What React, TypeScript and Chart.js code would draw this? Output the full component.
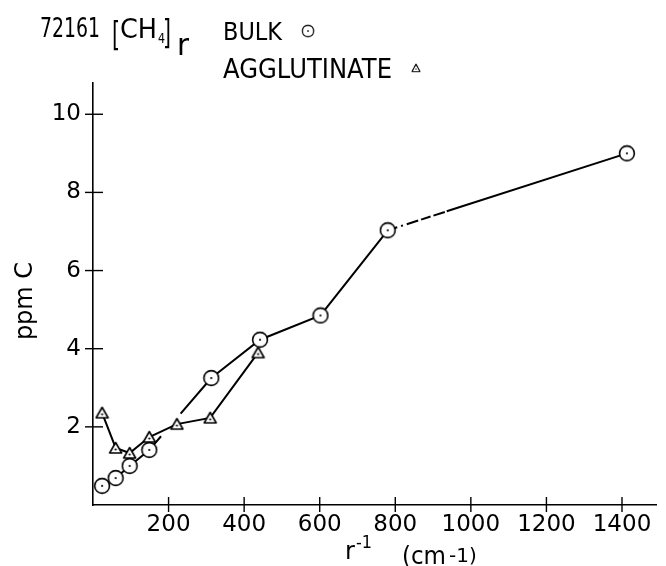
import React, { useEffect, useRef } from "react";
import { Chart, registerables } from "chart.js";

Chart.register(...registerables);

// Bulk (circles)
const BULK_X = [24, 60, 97, 149, 313, 442, 602, 780, 1413];
const BULK_Y = [0.49, 0.69, 1.0, 1.41, 3.25, 4.23, 4.85, 7.03, 9.0];
// Agglutinate (triangles)
const AGG_X = [24, 60, 97, 149, 222, 310, 437];
const AGG_Y = [2.36, 1.46, 1.33, 1.74, 2.07, 2.23, 3.9];

const X_TICKS = [200, 400, 600, 800, 1000, 1200, 1400];
const Y_TICKS = [2, 4, 6, 8, 10];

const FONT = "'DejaVu Sans', sans-serif";

function makeCircle(): HTMLCanvasElement {
  const c = document.createElement("canvas");
  c.width = 18;
  c.height = 18;
  const g = c.getContext("2d")!;
  g.fillStyle = "#fff";
  g.strokeStyle = "#000";
  g.lineWidth = 1.6;
  g.beginPath();
  g.arc(9, 9, 7.4, 0, Math.PI * 2);
  g.fill();
  g.stroke();
  g.fillStyle = "#000";
  g.beginPath();
  g.arc(9, 9, 1.1, 0, Math.PI * 2);
  g.fill();
  return c;
}

function makeTriangle(): HTMLCanvasElement {
  const c = document.createElement("canvas");
  c.width = 15;
  c.height = 14;
  const g = c.getContext("2d")!;
  g.fillStyle = "#fff";
  g.strokeStyle = "#000";
  g.lineWidth = 1.6;
  g.lineJoin = "round";
  g.beginPath();
  g.moveTo(7.5, 1.5);
  g.lineTo(13.5, 12);
  g.lineTo(1.5, 12);
  g.closePath();
  g.fill();
  g.stroke();
  g.fillStyle = "#000";
  g.beginPath();
  g.arc(7.5, 8.5, 1.1, 0, Math.PI * 2);
  g.fill();
  return c;
}

export default function App() {
  const ref = useRef<HTMLCanvasElement | null>(null);

  useEffect(() => {
    document.body.style.margin = "0";
    const circ = makeCircle();
    const tri = makeTriangle();

    const decor = {
      id: "decor",
      afterDraw(chart: any) {
        const ctx = chart.ctx as CanvasRenderingContext2D;
        const xs = chart.scales.x;
        const ys = chart.scales.y;
        ctx.save();
        ctx.strokeStyle = "#000";
        ctx.fillStyle = "#000";
        ctx.lineWidth = 1.4;
        // crossing tick marks
        const x0 = xs.getPixelForValue(0);
        const y0 = ys.getPixelForValue(0);
        for (const v of Y_TICKS) {
          const py = ys.getPixelForValue(v);
          ctx.beginPath();
          ctx.moveTo(x0 - 8, py);
          ctx.lineTo(x0 + 10, py);
          ctx.stroke();
        }
        for (const v of X_TICKS) {
          const px = xs.getPixelForValue(v);
          ctx.beginPath();
          ctx.moveTo(px, y0 - 8);
          ctx.lineTo(px, y0 + 7);
          ctx.stroke();
        }
        ctx.textBaseline = "alphabetic";
        ctx.textAlign = "left";
        // header
        ctx.font = `26px ${FONT}`;
        ctx.fillText("72161", 40, 37, 60);
        ctx.font = `34px ${FONT}`;
        ctx.fillText("[", 112, 46, 8);
        ctx.fillText("]", 163, 44, 8);
        ctx.font = `26px ${FONT}`;
        ctx.fillText("CH", 120, 38, 37);
        ctx.font = `14px ${FONT}`;
        ctx.fillText("4", 158, 43, 7);
        ctx.font = `30px ${FONT}`;
        ctx.fillText("r", 177, 55, 12);
        ctx.font = `25px ${FONT}`;
        ctx.fillText("BULK", 223, 40, 59);
        ctx.font = `26px ${FONT}`;
        ctx.fillText("AGGLUTINATE", 223, 78, 169);
        ctx.drawImage(circ, 308 - 7, 31 - 7, 14, 14);
        ctx.drawImage(tri, 416 - 5, 68 - 5, 10, 10);
        // axis titles
        ctx.save();
        ctx.translate(32, 301);
        ctx.rotate(-Math.PI / 2);
        ctx.textAlign = "center";
        ctx.font = `24px ${FONT}`;
        ctx.fillText("ppm C", 0, 0, 84);
        ctx.restore();
        ctx.font = `24px ${FONT}`;
        ctx.fillText("r", 345, 559, 11);
        ctx.font = `17px ${FONT}`;
        ctx.fillText("-1", 356, 548, 16);
        ctx.font = `24px ${FONT}`;
        ctx.fillText("(cm", 402, 564, 44);
        ctx.font = `20px ${FONT}`;
        ctx.fillText("-1)", 449, 562, 32);
        ctx.restore();
      },
    };

    const chart = new Chart(ref.current!, {
      type: "line",
      data: {
        datasets: [
          {
            label: "BULK",
            data: BULK_X.map((x, i) => ({ x, y: BULK_Y[i] })),
            borderColor: "#000",
            borderWidth: 2,
            pointStyle: circ as any,
            pointRadius: 8,
            tension: 0,
            segment: {
              borderDash: (c: any) =>
                c.p0DataIndex === 3
                  ? [18, 30, 300]
                  : c.p0DataIndex === 7
                  ? [10, 4, 2, 4, 12, 3, 10, 3, 12, 2, 600]
                  : undefined,
            },
          },
          {
            label: "AGGLUTINATE",
            data: AGG_X.map((x, i) => ({ x, y: AGG_Y[i] })),
            borderColor: "#000",
            borderWidth: 2,
            pointStyle: tri as any,
            pointRadius: 7,
            tension: 0,
          },
        ],
      },
      options: {
        animation: false,
        responsive: false,
        layout: { padding: { left: 0, right: 5, top: 83, bottom: 0 } },
        plugins: { legend: { display: false }, tooltip: { enabled: false } },
        scales: {
          x: {
            type: "linear",
            min: 0,
            max: 1490,
            afterBuildTicks: (s: any) => {
              s.ticks = X_TICKS.map((v) => ({ value: v }));
            },
            afterFit: (s: any) => {
              s.height = 61;
            },
            grid: { display: true, drawOnChartArea: false, drawTicks: false },
            border: { display: true, color: "#000", width: 1.6 },
            ticks: {
              color: "#000",
              padding: 6,
              maxRotation: 0,
              autoSkip: false,
              font: { family: FONT, size: 23 },
              callback: (v: any) => String(v),
            },
          },
          y: {
            type: "linear",
            min: 0,
            max: 10.8,
            afterBuildTicks: (s: any) => {
              s.ticks = Y_TICKS.map((v) => ({ value: v }));
            },
            afterFit: (s: any) => {
              s.width = 93;
            },
            grid: { display: true, drawOnChartArea: false, drawTicks: false },
            border: { display: true, color: "#000", width: 1.6 },
            ticks: {
              color: "#000",
              padding: 12,
              autoSkip: false,
              font: { family: FONT, size: 23 },
              callback: (v: any) => String(v),
            },
          },
        },
      },
      plugins: [decor],
    });
    return () => chart.destroy();
  }, []);

  return (
    <div style={{ width: 666, height: 566 }}>
      <canvas ref={ref} width={666} height={566} style={{ display: "block" }} />
    </div>
  );
}
